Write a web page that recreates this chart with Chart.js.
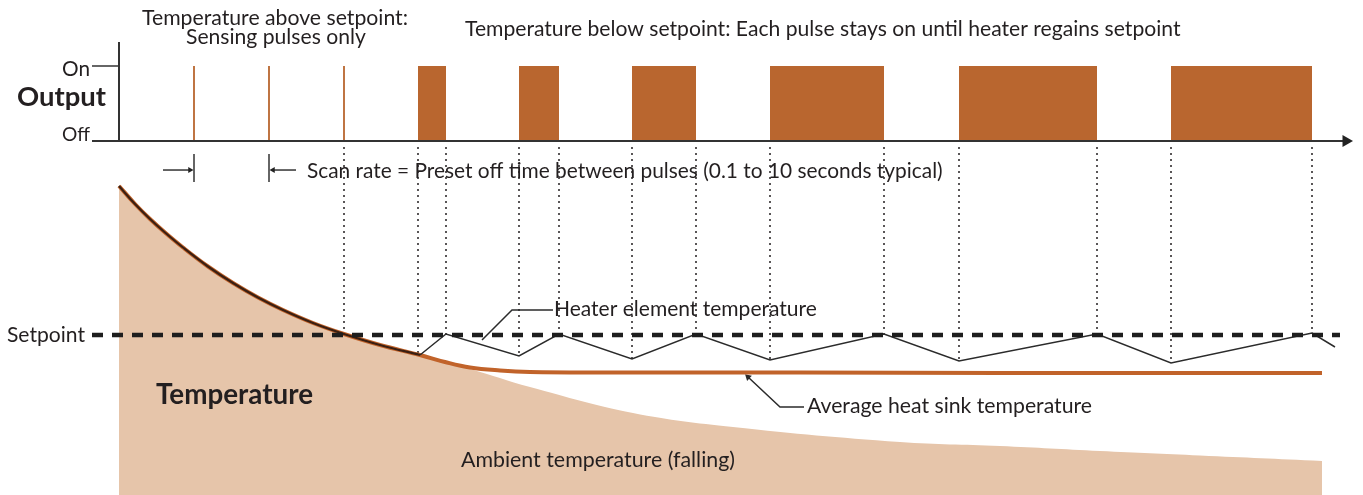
<!DOCTYPE html>
<html>
<head>
<meta charset="utf-8">
<script src="https://cdn.jsdelivr.net/npm/chart.js@4.4.1/dist/chart.umd.min.js"></script>
<style>
html, body { margin: 0; padding: 0; background: #fff; }
#wrap { width: 1363px; height: 495px; }
</style>
</head>
<body>
<div id="wrap"><canvas id="myChart" width="1363" height="495"></canvas></div>
<script>
// output signal (time axis shared by both panels)
const sensingPulseTimes = [194, 269, 344];
const sensingPulseWidth = 1.8;
const heatPulseStarts = [418, 519, 632, 770, 959, 1171];
const heatPulseEnds = [446, 559, 696, 884, 1097, 1312];
const outputOff = 0;
const outputOn = 1;

// temperatures (arbitrary units)
const setpoint = 160;
const coolingTimes = [119, 135, 150, 165, 183, 208, 233, 258, 283, 313, 344, 380, 420];
const coolingTemps = [309, 291, 276, 262.5, 247.5, 228.5, 212, 197.5, 185, 172, 161, 150, 140];
const ambientTailTimes = [445, 470, 530, 633, 733, 900, 1000, 1100, 1200, 1322];
const ambientTailTemps = [132, 126, 108, 82, 68, 53, 49, 44, 39.5, 34];
const sinkTailTimes = [445, 470, 500, 530, 600, 800, 1000, 1322];
const sinkTailTemps = [133, 127.5, 124.5, 123, 122.5, 122.5, 122, 122];
const heaterTimes = [420, 446, 519, 559, 632, 696, 770, 884, 959, 1097, 1171, 1312, 1335];
const heaterTemps = [140, 161, 139, 161, 136, 161, 135, 161, 134, 161, 132, 162, 148];

const pts = (xs, ys) => xs.map((x, i) => ({ x: x, y: ys[i] }));

const ambientData = pts(coolingTimes.concat(ambientTailTimes), coolingTemps.concat(ambientTailTemps));
const sinkData = pts(coolingTimes.concat(sinkTailTimes), coolingTemps.concat(sinkTailTemps));
const coolingData = pts(coolingTimes, coolingTemps);
const heaterData = pts(heaterTimes, heaterTemps);

// on/off output as a square wave
const outputData = [];
sensingPulseTimes.forEach(t => {
  const a = t - sensingPulseWidth / 2, b = t + sensingPulseWidth / 2;
  outputData.push({x: a, y: outputOff}, {x: a, y: outputOn}, {x: b, y: outputOn}, {x: b, y: outputOff});
});
heatPulseStarts.forEach((s, i) => {
  const e = heatPulseEnds[i];
  outputData.push({x: s, y: outputOff}, {x: s, y: outputOn}, {x: e, y: outputOn}, {x: e, y: outputOff});
});

// heater temperature at a given time (for the dotted guides)
const allHeat = coolingData.slice(0, -1).concat(heaterData);
function heaterAt(t) {
  for (let i = 1; i < allHeat.length; i++) {
    const p = allHeat[i - 1], q = allHeat[i];
    if (t >= p.x && t <= q.x) return p.y + (q.y - p.y) * (t - p.x) / (q.x - p.x);
  }
  return setpoint;
}
const guideTimes = [sensingPulseTimes[2]];
heatPulseStarts.forEach((s, i) => guideTimes.push(s, heatPulseEnds[i]));
const guideTop = 348;

const ink = '#231f20';
const pulseColor = '#b9662f';

const guideSets = guideTimes.map(t => ({
  data: [{x: t, y: guideTop}, {x: t, y: heaterAt(t)}],
  yAxisID: 'yTemp', borderColor: ink, borderWidth: 1.5, borderDash: [2, 4], order: 6
}));

const line = (data, axis, color, width, order, extra) => Object.assign({
  data: data, yAxisID: axis, borderColor: color, borderWidth: width, order: order, tension: 0
}, extra || {});

const scanY = -0.387;

const datasets = [
  // setpoint
  line([{x: 92, y: setpoint}, {x: 1340, y: setpoint}], 'yTemp', '#1e1e1e', 4.5, 1, {borderDash: [11, 9]}),
  // heater element zig-zag
  line(heaterData, 'yTemp', '#2b2b2b', 1.5, 2),
  // heater / heat sink while cooling
  line(coolingData, 'yTemp', '#3a1f12', 2.2, 3, {tension: 0.4}),
  // average heat sink temperature
  line(sinkData, 'yTemp', '#c1632a', 4, 4, {tension: 0.4}),
  // leaders
  line([{x: 553, y: 185}, {x: 512, y: 185}, {x: 482, y: 155}], 'yTemp', '#2b2b2b', 1.5, 5),
  line([{x: 804, y: 88}, {x: 780, y: 88}, {x: 748, y: 118}], 'yTemp', '#2b2b2b', 1.5, 5,
    {pointRadius: [0, 0, 4], pointStyle: 'triangle', pointRotation: -47, pointBackgroundColor: '#2b2b2b', pointBorderWidth: 0}),
  // ambient temperature area
  line(ambientData, 'yTemp', 'transparent', 0, 9, {tension: 0.4, fill: 'start', backgroundColor: '#e6c5aa'}),
  // output pulses
  line(outputData, 'yOut', 'transparent', 0, 7, {fill: {value: outputOff}, backgroundColor: pulseColor}),
  // output axes
  line([{x: 119, y: 1.32}, {x: 119, y: outputOff}], 'yOut', '#333', 2, 5),
  line([{x: 92, y: outputOn}, {x: 119, y: outputOn}], 'yOut', '#333', 1.5, 5),
  line([{x: 92, y: outputOff}, {x: 1346, y: outputOff}], 'yOut', '#333', 2, 5,
    {pointRadius: [0, 7], pointStyle: 'triangle', pointRotation: 90, pointBackgroundColor: '#222', pointBorderWidth: 0}),
  // scan rate markers
  line([{x: sensingPulseTimes[0], y: -0.173}, {x: sensingPulseTimes[0], y: -0.547}], 'yOut', '#333', 1.5, 5),
  line([{x: sensingPulseTimes[1], y: -0.173}, {x: sensingPulseTimes[1], y: -0.547}], 'yOut', '#333', 1.5, 5),
  line([{x: 163, y: scanY}, {x: 190, y: scanY}], 'yOut', '#333', 1.5, 5,
    {pointRadius: [0, 3.5], pointStyle: 'triangle', pointRotation: 90, pointBackgroundColor: '#222', pointBorderWidth: 0}),
  line([{x: 296, y: scanY}, {x: 273, y: scanY}], 'yOut', '#333', 1.5, 5,
    {pointRadius: [0, 3.5], pointStyle: 'triangle', pointRotation: -90, pointBackgroundColor: '#222', pointBorderWidth: 0})
].concat(guideSets);

// text annotations: left x, baseline y, target width
const labels = [
  {text: 'Temperature above setpoint:', x: 142, y: 25, w: 266},
  {text: 'Sensing pulses only', x: 186, y: 44, w: 180},
  {text: 'Temperature below setpoint: Each pulse stays on until heater regains setpoint', x: 465, y: 36, w: 716},
  {text: 'Scan rate = Preset off time between pulses (0.1 to 10 seconds typical)', x: 307, y: 178, w: 636},
  {text: 'Heater element temperature', x: 554, y: 316, w: 263},
  {text: 'Average heat sink temperature', x: 807, y: 413, w: 285},
  {text: 'Ambient temperature (falling)', x: 461, y: 467, w: 274},
  {text: 'Temperature', x: 156, y: 404, w: 157, bold: true},
  {text: 'Setpoint', x: 7, y: 342, w: 78},
  {text: 'Output', x: 17, y: 106, w: 89, bold: true},
  {text: 'On', x: 62, y: 76, w: 28},
  {text: 'Off', x: 62, y: 141, w: 28}
];

const textPlugin = {
  id: 'diagramText',
  afterDraw(chart) {
    const ctx = chart.ctx;
    ctx.save();
    ctx.fillStyle = ink;
    ctx.textAlign = 'left';
    ctx.textBaseline = 'alphabetic';
    labels.forEach(l => {
      const weight = l.bold ? 'bold' : 'normal';
      ctx.font = weight + ' 20px Lato';
      const size = 20 * l.w / ctx.measureText(l.text).width;
      ctx.font = weight + ' ' + size.toFixed(2) + 'px Lato';
      ctx.fillText(l.text, l.x, l.y);
    });
    ctx.restore();
  }
};

const chart = new Chart(document.getElementById('myChart').getContext('2d'), {
  type: 'line',
  data: { datasets: datasets },
  options: {
    responsive: false,
    animation: false,
    devicePixelRatio: 1,
    layout: { padding: 0, autoPadding: false },
    elements: { point: { radius: 0, hoverRadius: 0 } },
    plugins: { legend: { display: false }, tooltip: { enabled: false } },
    scales: {
      x: { type: 'linear', display: false, min: 0, max: 1363 },
      yOut: { type: 'linear', display: false, min: -4.72, max: 1.88 },
      yTemp: { type: 'linear', display: false, min: 0, max: 495 }
    }
  },
  plugins: [textPlugin]
});
</script>
</body>
</html>
